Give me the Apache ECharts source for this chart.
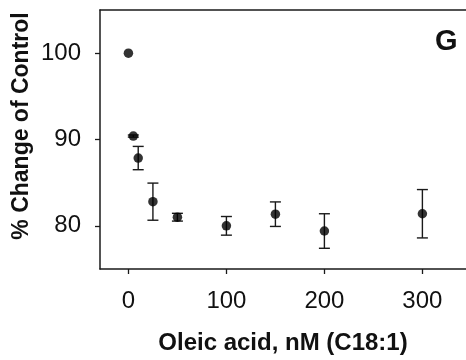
<!DOCTYPE html>
<html>
<head>
<meta charset="utf-8">
<script src="https://cdn.jsdelivr.net/npm/echarts@6/dist/echarts.min.js"></script>
<style>
html,body{margin:0;padding:0;background:#fff;}
#chart{width:466px;height:360px;}
</style>
</head>
<body>
<div id="chart"></div>
<script>
// Data
var concentrations = [0, 5, 10, 25, 50, 100, 150, 200, 300];
var percentOfControl = [100.0, 90.4, 87.85, 82.8, 81.0, 80.0, 81.35, 79.4, 81.4];
var sem = [0, 0.12, 1.35, 2.15, 0.45, 1.08, 1.42, 2.0, 2.8];
var xTicks = [0, 100, 200, 300];
var yTicks = [80, 90, 100];
var xTitle = 'Oleic acid, nM (C18:1)';
var yTitle = '% Change of Control';
var panelLabel = 'G';

var points = concentrations.map(function (c, i) { return [c, percentOfControl[i]]; });
var errData = concentrations.map(function (c, i) { return [c, percentOfControl[i] - sem[i], percentOfControl[i] + sem[i]]; });

var FONT = '"Liberation Sans", Arial, sans-serif';
var INK = '#1a1a1a';

var chart = echarts.init(document.getElementById('chart'), null, {renderer: 'canvas'});
chart.setOption({
  animation: false,
  backgroundColor: '#fff',
  grid: {left: 100, right: 0, top: 10, bottom: 89, containLabel: false},
  xAxis: [{
    type: 'value', min: -29, max: 344.5,
    splitLine: {show: false},
    axisLine: {show: true, onZero: false, lineStyle: {color: INK, width: 1.5}},
    axisTick: {show: true, length: 5, customValues: xTicks, lineStyle: {color: INK, width: 1.3}},
    axisLabel: {customValues: xTicks, margin: 20, fontSize: 24, fontFamily: FONT, color: '#111'},
    name: xTitle, nameLocation: 'middle', nameGap: 62,
    nameTextStyle: {fontSize: 24, fontWeight: 'bold', fontFamily: FONT, color: '#111'}
  }, {
    type: 'value', position: 'top', min: -29, max: 344.5,
    splitLine: {show: false},
    axisLine: {show: true, onZero: false, lineStyle: {color: INK, width: 1.5}},
    axisTick: {show: false}, axisLabel: {show: false}
  }],
  yAxis: {
    type: 'value', min: 75, max: 105,
    splitLine: {show: false},
    axisLine: {show: true, onZero: false, lineStyle: {color: INK, width: 1.5}},
    axisTick: {show: true, length: 5, customValues: yTicks, lineStyle: {color: INK, width: 1.3}},
    axisLabel: {customValues: yTicks, margin: 19, fontSize: 24, fontFamily: FONT, color: '#111'}
  },
  graphic: [{
    type: 'text', left: 435, top: 27,
    style: {text: panelLabel, font: 'bold 29px ' + FONT, fill: '#111'}
  }, {
    type: 'text', x: 22, y: 126, rotation: Math.PI / 2,
    style: {text: yTitle, font: 'bold 23px ' + FONT, fill: '#111', align: 'center', verticalAlign: 'middle'}
  }],
  series: [{
    type: 'custom',
    data: errData,
    z: 2,
    renderItem: function (params, api) {
      var x = api.value(0);
      var lo = api.coord([x, api.value(1)]);
      var hi = api.coord([x, api.value(2)]);
      if (Math.abs(lo[1] - hi[1]) < 0.5) { return {type: 'group', children: []}; }
      var w = 5.5;
      var st = {stroke: INK, lineWidth: 1.4};
      return {type: 'group', children: [
        {type: 'line', shape: {x1: lo[0], y1: lo[1], x2: hi[0], y2: hi[1]}, style: st},
        {type: 'line', shape: {x1: lo[0] - w, y1: lo[1], x2: lo[0] + w, y2: lo[1]}, style: st},
        {type: 'line', shape: {x1: hi[0] - w, y1: hi[1], x2: hi[0] + w, y2: hi[1]}, style: st}
      ]};
    }
  }, {
    type: 'scatter',
    data: points,
    symbol: 'circle', symbolSize: 9.5,
    itemStyle: {color: '#000'},
    z: 3
  }]
});
</script>
</body>
</html>
